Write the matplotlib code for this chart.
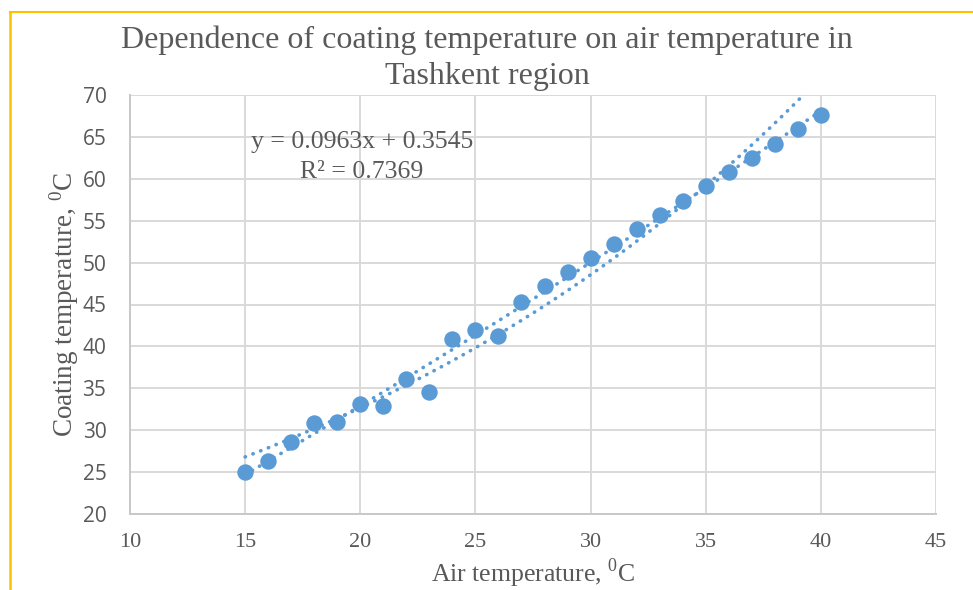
import numpy as np
import matplotlib
matplotlib.use("Agg")
import matplotlib.pyplot as plt
from matplotlib.lines import Line2D

plt.rcParams["mathtext.fontset"] = "custom"
plt.rcParams["mathtext.rm"] = "Liberation Serif"

# ---- data ----
air_temp = [15, 16, 17, 18, 19, 20, 21, 22, 23, 24, 25, 26, 27,
            28, 29, 30, 31, 32, 33, 34, 35, 36, 37, 38, 39, 40]
coating_temp = [25.0, 26.3, 28.6, 30.8, 31.0, 33.1, 32.9, 36.1, 34.6, 40.9, 42.0, 41.2, 45.3,
                47.2, 48.9, 50.5, 52.2, 54.0, 55.7, 57.4, 59.1, 60.8, 62.5, 64.2, 65.9, 67.6]
title = "Dependence of coating temperature on air temperature in\nTashkent region"
eq_text = "y = 0.0963x + 0.3545\nR² = 0.7369"
x_ticks = [10, 15, 20, 25, 30, 35, 40, 45]
y_ticks = [20, 25, 30, 35, 40, 45, 50, 55, 60, 65, 70]

blue = "#5B9BD5"
gray_text = "#595959"
grid_c = "#D9D9D9"

fig = plt.figure(figsize=(9.73, 5.90), dpi=100)
ax = fig.add_axes([130/973, 1-514/590, (936-130)/973, (514-95)/590])

x = np.array(air_temp, float)
y = np.array(coating_temp, float)

# exponential trendline (Excel style)
b, lna = np.polyfit(x, np.log(y), 1)
xe = np.linspace(15, 40, 300)
ye = np.exp(lna) * np.exp(b * xe)
ax.plot(xe, ye, linestyle=(0, (0.1, 2.2)), color=blue, lw=2.6,
        dash_capstyle="round", zorder=3)
# polynomial (order 2) trendline
pc = np.polyfit(x, y, 2)
xp = np.linspace(15, 40, 300)
ax.plot(xp, np.polyval(pc, xp), linestyle=(0, (0.1, 2.2)), color=blue, lw=2.6,
        dash_capstyle="round", zorder=3)

ax.scatter(x, y, s=140, color=blue, zorder=4, linewidths=0)

ax.set_xlim(10, 45)
ax.set_ylim(20, 70)
ax.set_xticks(x_ticks)
ax.set_yticks(y_ticks)
ax.grid(True, color=grid_c, lw=1.4)
ax.set_axisbelow(True)
for s in ["top", "right"]:
    ax.spines[s].set_visible(False)
for s in ["left", "bottom"]:
    ax.spines[s].set_color("#C8C8C8")
    ax.spines[s].set_linewidth(1.4)
ax.tick_params(axis="x", length=0, pad=14)
ax.tick_params(axis="y", length=0, pad=17)
for lab in ax.get_xticklabels():
    lab.set_fontfamily("Liberation Serif")
    lab.set_fontsize(16)
    lab.set_color(gray_text)
for lab in ax.get_yticklabels():
    lab.set_fontfamily("Open Sans")
    lab.set_fontsize(15)
    lab.set_color(gray_text)

ax.set_xlabel("Air temperature, $^{0}$C", fontfamily="Liberation Serif",
              fontsize=18.5, color=gray_text, labelpad=3)
ax.set_ylabel("Coating temperature, $^{0}$C", fontfamily="Liberation Serif",
              fontsize=19.5, color=gray_text, labelpad=1)

fig.text(487/973, 1-58/590, title, ha="center", va="center",
         fontfamily="Liberation Serif", fontsize=23, color=gray_text,
         linespacing=1.3)
fig.text(362/973, 1-157/590, eq_text, ha="center", va="center",
         fontfamily="Liberation Serif", fontsize=18.5, color=gray_text,
         linespacing=1.45)

# yellow frame
fig.add_artist(Line2D([9.5/973, 1], [1-12/590, 1-12/590], color="#FFC000", lw=1.5,
                      transform=fig.transFigure))
fig.add_artist(Line2D([9.5/973, 9.5/973], [0, 1-12/590], color="#FFC000", lw=1.8,
                      transform=fig.transFigure))

fig.savefig("out.png", dpi=100)
